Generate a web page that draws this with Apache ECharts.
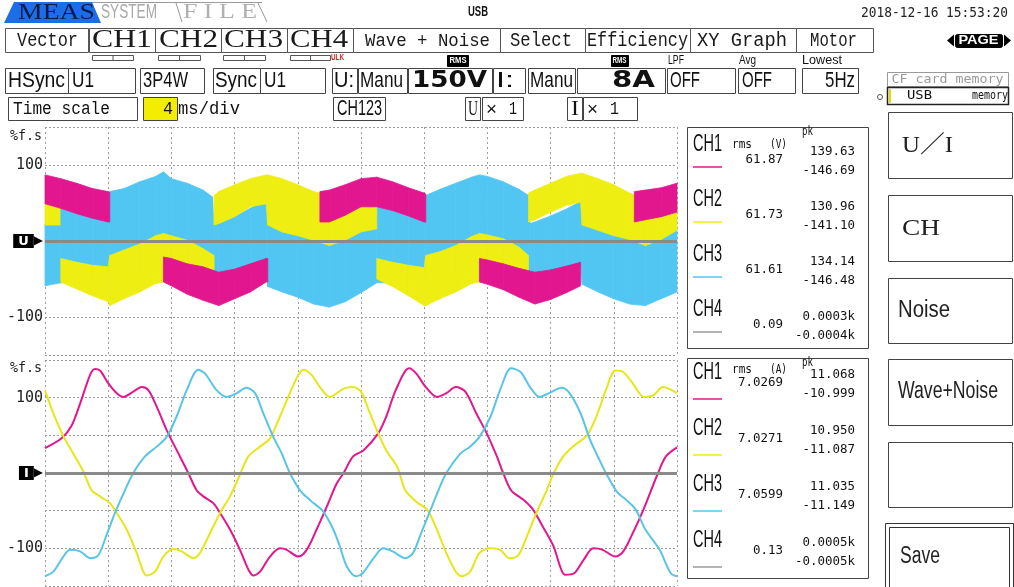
<!DOCTYPE html>
<html><head><meta charset="utf-8">
<script src="https://cdn.jsdelivr.net/npm/echarts@6/dist/echarts.min.js"></script>
<style>html,body{margin:0;padding:0;background:#fff}#c{width:1014px;height:587px}</style>
</head><body><div id="c"></div>
<script>
// ---------------- DATA ----------------
// Voltage (upper plot): PWM bands per channel, time in ms, values in %f.s (null = gap)
const U1_T  = [0,1,2,3,4,4.1,null,7.5,8,9,10,11,12,13,14,14.1,null,17.4,18,19,20,21,22,23,24,24.1,null,27.5,28,29,30,31,32,33,33.9,null,37.3,38,39,40];
const U1_HI = [87,82,76,69,65,64,null,-21,-23,-30,-34,-41,-37,-30,-23,-23,null,65,67,74,82,84,78,70,63,62,null,-23,-25,-30,-36,-41,-38,-33,-28,null,65,67,70,76];
const U1_LO = [49,43,36,30,25,25,null,-54,-59,-70,-78,-85,-76,-67,-54,-54,null,25,25,34,45,45,40,33,25,25,null,-54,-57,-64,-74,-83,-77,-68,-59,null,25,28,32,38];

const U2_T  = [0,0.95,null,1,2,3,4,4.1,5,6,7,7.5,8,9,10,10.7,null,10.7,11,12,13,14,14.1,15,16,17,18,19,20,21,null,21,22,23,24,24.1,25,26,27,27.5,28,29,30,30.6,null,30.6,31,32,33,33.9,34,35,36,37,38,39,40];
const U2_HI = [51,50,null,-23,-28,-32,-34,-19,-12,-4,7,10,7,1,-10,-19,null,60,65,74,82,87,87,82,74,65,60,50,51,50,null,-23,-28,-32,-35,-19,-14,-6,6,10,8,3,-8,-19,null,63,67,76,85,89,89,82,74,63,55,50,50];
const U2_LO = [21,21,null,-54,-63,-72,-80,-85,-76,-67,-56,-54,-50,-45,-45,-45,null,21,23,32,45,49,21,12,7,1,-6,1,12,16,null,-50,-60,-72,-85,-85,-76,-67,-56,-54,-48,-45,-45,-45,null,25,28,38,47,51,21,14,7,2,-6,2,14];

const U3_T  = [0,1,2,3,4,4.1,5,6,7,7.5,8,9,10,10.6,10.7,11,12,13,14,14.1,15,16,17,18,19,20,21,22,23,24,24.1,25,26,27,27.5,28,29,30,30.6,30.7,31,32,33,33.9,34,35,36,37,38,39,40];
const U3_HI = [22,45,40,32,28,65,69,78,85,91,82,76,67,58,21,23,32,43,54,25,15,10,5,0,5,15,45,40,33,28,60,68,76,84,87,85,78,68,60,23,25,33,42,52,25,16,10,5,0,5,17];
const U3_LO = [-59,-55,-55,-50,-45,-40,-40,-40,-40,-40,-40,-40,-40,-40,-45,-45,-40,-35,-30,-60,-67,-74,-83,-87,-80,-68,-55,-55,-50,-45,-40,-40,-40,-40,-40,-40,-40,-40,-40,-45,-45,-40,-35,-30,-57,-67,-76,-83,-85,-76,-67];

// Current (lower plot)
const I1_T = [0,1.05,1.69,2.22,2.85,3.16,3.48,4.01,4.54,4.96,5.59,6.12,6.54,7.07,7.7,8.54,9.07,9.6,10.02,10.65,11.08,11.71,12.34,12.87,13.19,13.61,14.24,14.87,15.3,16.03,16.56,17.19,17.83,18.46,18.9,19.5,20.15,21.1,21.6,22.2,23.04,23.5,24.1,24.8,25.4,26.0,26.6,27.3,27.95,28.6,29.0,29.5,30.3,30.9,31.5,32.2,32.6,32.9,33.5,34.1,34.7,35.3,36.1,36.6,37.2,37.87,38.8,39.3,40];
const I1_V = [33,46,63,92,130,138,136,119,106,101,108,114,110,88,57,22,0,-23,-31,-40,-53,-75,-102,-128,-136,-131,-111,-100,-102,-111,-102,-75,-45,-14,0,22,30,53,75,110,139,132,114,101,106,114,108,79,53,22,0,-23,-36,-49,-71,-98,-124,-135,-133,-115,-100,-102,-111,-104,-80,-49,0,22,34];
const I2_T = [0,0.53,1.16,1.79,2.43,2.95,3.48,4.11,4.54,5.17,5.8,6.22,6.43,6.96,7.49,8.12,8.65,9.39,9.81,10.44,11.08,11.71,12.24,12.87,13.61,14.24,14.87,15.5,16.03,16.35,16.88,17.4,18.04,18.9,19.5,20.0,20.5,21.0,21.6,22.3,22.8,23.5,24.2,24.8,25.4,26.0,26.4,26.9,27.5,28.2,28.8,29.4,29.96,30.5,31.1,31.75,32.2,32.8,33.4,34.3,34.9,35.5,36.1,36.6,37.2,37.9,38.5,39.1,40];
const I2_V = [110,79,49,26,2,-23,-31,-40,-53,-75,-106,-131,-136,-131,-111,-101,-104,-113,-106,-80,-53,-31,-7,22,35,46,75,106,130,137,130,114,101,112,114,108,83,57,30,8,-23,-38,-49,-75,-106,-131,-137,-131,-106,-100,-102,-113,-109,-84,-53,-23,0,22,35,50,75,110,136,134,119,101,103,114,106];
const I3_T = [0,0.53,1.16,1.58,2.22,2.85,3.38,3.9,4.43,5.06,5.59,6.33,7.07,7.7,8.33,8.97,9.7,10.13,10.86,11.5,12.13,12.76,13.29,13.82,14.45,14.98,15.5,16.14,16.77,17.6,18.25,18.67,19.1,19.7,20.1,20.8,21.4,22.0,22.8,23.3,23.8,24.4,24.9,25.4,26.3,26.9,27.5,28.2,28.8,29.5,30.1,30.7,31.3,31.9,32.7,33.2,33.9,34.5,35.1,35.5,36.2,36.8,37.4,38.0,38.9,39.6,40];
const I3_V = [-137,-131,-111,-102,-104,-113,-109,-82,-53,-23,0,22,35,48,75,110,137,132,110,101,106,113,106,79,48,26,0,-23,-36,-51,-75,-98,-124,-137,-133,-113,-100,-104,-113,-106,-80,-49,-23,0,26,35,48,75,110,139,134,114,101,106,113,106,79,44,17,0,-25,-36,-49,-75,-102,-133,-137];

// Axis ticks / labels
const Y_LABELS = [100, -100];
const X_MAX_MS = 40, X_DIV_MS = 4;

// Measurement panel values
const CHANNELS = ['CH1','CH2','CH3','CH4'];
const U_RMS = ['61.87','61.73','61.61','0.09'];
const U_PKP = ['139.63','130.96','134.14','0.0003k'];
const U_PKN = ['-146.69','-141.10','-146.48','-0.0004k'];
const I_RMS = ['7.0269','7.0271','7.0599','0.13'];
const I_PKP = ['11.068','10.950','11.035','0.0005k'];
const I_PKN = ['-10.999','-11.087','-11.149','-0.0005k'];

// ---------------- STYLE ----------------
const C1 = '#e2178f', C2 = '#eeee12', C3 = '#52c6f2', C4 = '#9a9a9a';
const CH_COLORS = [C1, C2, C3, C4];
const GRID_C = '#9c9c9c';
const SANS = '"Liberation Sans", "DejaVu Sans", sans-serif';
const MONO = '"Liberation Mono", "DejaVu Sans Mono", monospace';
const DMONO = '"DejaVu Sans Mono", monospace';
const SERIF = '"Liberation Serif", "DejaVu Serif", serif';

const mctx = document.createElement('canvas').getContext('2d');
function T(text, x, y, o) {
  o = o || {};
  const size = o.size || 14, fam = o.fam || SANS, wt = o.wt || 'normal';
  const font = wt + ' ' + size + 'px ' + fam;
  let sx = 1;
  if (o.w) { mctx.font = font; const m = mctx.measureText(text).width; if (m > 0) sx = o.w / m; }
  return {type: 'text', x: x, y: y, scaleX: sx, z: 100, silent: true,
    style: {text: text, font: font, fill: o.color || '#111', align: o.align || 'left', verticalAlign: 'middle'}};
}
function R(x, y, w, h, o) {
  o = o || {};
  return {type: 'rect', z: o.z || 90, silent: true,
    shape: {x: x + 0.5, y: y + 0.5, width: w, height: h, r: o.r || 0},
    style: {fill: o.fill || 'none', stroke: o.stroke === undefined ? '#333' : o.stroke, lineWidth: o.lw || 1}};
}
function L(x1, y1, x2, y2, c, lw) {
  return {type: 'line', z: 90, silent: true, shape: {x1: x1, y1: y1, x2: x2, y2: y2}, style: {stroke: c || '#333', lineWidth: lw || 1}};
}
function P(points, fill) { return {type: 'polygon', z: 89, silent: true, shape: {points: points}, style: {fill: fill}}; }

// ---------------- CHROME ----------------
const G = [];
// tabs
G.push(P([[4,23],[14,2],[92,2],[101,23]], '#1c6ee8'));
G.push(L(92,2.5,262,2.5,'#9a9a9a'));
G.push(L(176,3,182,22,'#9a9a9a'));
G.push(L(258,3,267,22,'#9a9a9a'));
G.push(T('MEAS', 18, 13, {size: 24, fam: SERIF, w: 77, color: '#071a4a'}));
G.push(T('SYSTEM', 101, 12, {size: 20, fam: SANS, w: 56, color: '#a8a8a8'}));
G.push(T('F I L E', 183, 12, {size: 22, fam: SERIF, w: 74, color: '#b0b0b0'}));
G.push(T('USB', 468, 12, {size: 15, fam: SANS, wt: 'bold', w: 20}));
G.push(T('2018-12-16 15:53:20', 861, 13, {size: 14, fam: DMONO, w: 147, color: '#222'}));

// row 1 buttons
const row1 = [
  ['Vector',5,88,17,61,MONO,20], ['CH1',89,155,92,60,SERIF,25], ['CH2',155,221,159,59,SERIF,25],
  ['CH3',221,287,224,59,SERIF,25], ['CH4',287,353,290,58,SERIF,25], ['Wave + Noise',353,500,365,125,MONO,19],
  ['Select',500,585,510,62,MONO,20], ['Efficiency',585,690,587,101,MONO,20], ['XY Graph',690,796,697,90,MONO,20],
  ['Motor',796,873,810,47,MONO,20]];
row1.forEach(function (b) {
  G.push(R(b[1], 28, b[2] - b[1], 24, {stroke: '#555'}));
  G.push(T(b[0], b[3], 40.5, {size: b[6], fam: b[5], w: b[4], color: '#1a1a1a'}));
});
// channel indicator boxes
[[92,133],[158,200],[223,265],[290,330]].forEach(function (b) {
  G.push(R(b[0], 55, b[1] - b[0], 5, {stroke: '#555'}));
  G.push(L((b[0] + b[1]) / 2 + 0.5, 55, (b[0] + b[1]) / 2 + 0.5, 61, '#555'));
});
G.push(T('ULK', 331, 58, {size: 9, fam: SANS, wt: 'bold', w: 13, color: '#e02020'}));
// PAGE
G.push(R(955, 34, 47, 13, {fill: '#000', stroke: '#000', r: 2}));
G.push(T('PAGE', 978.5, 41, {size: 12, fam: SANS, wt: 'bold', w: 40, color: '#fff', align: 'center'}));
G.push(P([[947,40.5],[954,34.5],[954,46.5]], '#000'));
G.push(P([[1011,40.5],[1004,34.5],[1004,46.5]], '#000'));

// small labels above row 2
G.push(R(447, 55, 21, 11, {fill: '#000', stroke: '#000'}));
G.push(T('RMS', 458, 61, {size: 9, fam: SANS, wt: 'bold', w: 17, color: '#fff', align: 'center'}));
G.push(R(611, 55, 17, 11, {fill: '#000', stroke: '#000'}));
G.push(T('RMS', 619.5, 61, {size: 9, fam: SANS, wt: 'bold', w: 14, color: '#fff', align: 'center'}));
G.push(T('LPF', 668, 61, {size: 12, fam: SANS, w: 16}));
G.push(T('Avg', 739, 61, {size: 12, fam: SANS, w: 17}));
G.push(T('Lowest', 802, 61, {size: 12, fam: SANS, w: 40}));

// row 2 boxes
const row2 = [
  [5,68,'HSync',8,57],[68,135,'U1',72,22],[140,204,'3P4W',143,45],[213,260,'Sync',215,42],[260,325,'U1',264,22],
  [332,357,'U:',334,20],[358,407,'Manu',360,43],[408,492,'150V',412,75,1],[493,525,'I:',496,18],[528,575,'Manu',530,43],
  [577,665,'8A',612,43,1],[667,735,'OFF',670,30],[738,795,'OFF',742,30],[802,858,'5Hz',825,30]];
row2.forEach(function (b) {
  G.push(R(b[0], 68, b[1] - b[0], 25, {stroke: '#444'}));
  if (b[5]) G.push(T(b[2], b[3], 81, {size: 23, fam: '"DejaVu Sans", sans-serif', wt: 'bold', w: b[4], color: '#111'}));
  else G.push(T(b[2], b[3], 81, {size: 22, fam: SANS, w: b[4], color: '#111'}));
});

// row 3
[[8,137],[333,385],[465,480],[482,523],[567,582],[583,637]].forEach(function (b) {
  G.push(R(b[0], 97, b[1] - b[0], 23, {stroke: '#444'}));
});
G.push(R(143, 97, 34, 23, {stroke: '#444', fill: '#f3ee00'}));
G.push(T('Time scale', 13, 109, {size: 19, fam: MONO, w: 97}));
G.push(T('4', 163, 109, {size: 19, fam: MONO, w: 10}));
G.push(T('ms/div', 178, 109, {size: 19, fam: MONO, w: 62}));
G.push(T('CH123', 337, 109, {size: 22, fam: SANS, w: 45}));
G.push(T('U', 468, 109, {size: 21, fam: SERIF, w: 10}));
G.push(T('×', 486, 110, {size: 18, fam: SANS, w: 11}));
G.push(T('1', 509, 109, {size: 19, fam: MONO, w: 8}));
G.push(T('I', 571, 109, {size: 21, fam: SERIF, w: 8}));
G.push(T('×', 587, 110, {size: 18, fam: SANS, w: 11}));
G.push(T('1', 610, 109, {size: 19, fam: MONO, w: 9}));

// memory boxes
G.push(R(887, 72, 121, 14, {stroke: '#999'}));
G.push(T('CF card memory', 947.5, 79.5, {size: 13, fam: DMONO, w: 112, color: '#9a9a9a', align: 'center'}));
G.push(R(887, 87, 121, 17, {stroke: '#222', lw: 1.5}));
G.push(T('USB', 907, 96, {size: 13, fam: DMONO, w: 25}));
G.push(T('memory', 972, 96, {size: 13, fam: DMONO, w: 36}));
G.push({type: 'circle', z: 90, silent: true, shape: {cx: 880, cy: 97, r: 2.5}, style: {fill: 'none', stroke: '#555'}});
G.push(R(889, 89, 1, 13, {fill: '#e6d800', stroke: '#e6d800'}));

// right buttons
[[112,66],[195,66],[278,65],[359,66],[442,65]].forEach(function (b) { G.push(R(888, b[0], 124, b[1], {stroke: '#444'})); });
G.push(R(885, 523, 128, 70, {stroke: '#333'}));
G.push(R(889, 527, 120, 62, {stroke: '#333'}));
G.push(T('U／I', 902, 146, {size: 24, fam: SERIF + ', "Noto Sans CJK JP"', w: 51, color: '#222'}));
G.push(T('CH', 902, 229, {size: 24, fam: SERIF, w: 38, color: '#222'}));
G.push(T('Noise', 898, 311, {size: 23, fam: SANS, w: 52, color: '#222'}));
G.push(T('Wave+Noise', 898, 392, {size: 23, fam: SANS, w: 100, color: '#222'}));
G.push(T('Save', 900, 557, {size: 23, fam: SANS, w: 40, color: '#222'}));

// measurement panels
function panel(top, h, step, unit, rms, pkp, pkn, off) {
  G.push(R(687, top, 181, h, {stroke: '#444'}));
  G.push(T('rms', 732, top + off.hdr, {size: 13, fam: DMONO, w: 20}));
  G.push(T(unit, 770, top + off.hdr, {size: 13, fam: DMONO, w: 17}));
  G.push(T('pk', 802, top + off.pk, {size: 13, fam: DMONO, w: 11}));
  CHANNELS.forEach(function (ch, k) {
    const yb = top + k * step;
    G.push(T(ch, 693, yb + off.lab, {size: 24, fam: SANS, w: 29, color: '#111'}));
    G.push(T(pkp[k], 855, yb + off.pkp, {size: 13, fam: DMONO, align: 'right', w: pkp[k].length * 7.5}));
    G.push(T(rms[k], 783, yb + off.rms, {size: 13, fam: DMONO, align: 'right', w: rms[k].length * 7.5}));
    G.push(T(pkn[k], 855, yb + off.pkn, {size: 13, fam: DMONO, align: 'right', w: pkn[k].length * 7.5}));
    G.push(L(693, yb + off.line, 722, yb + off.line, CH_COLORS[k], 1.5));
  });
}
panel(127, 221, 55, '(V)', U_RMS, U_PKP, U_PKN, {hdr: 18, pk: 5, lab: 17, pkp: 25, rms: 33, pkn: 44, line: 40});
panel(358, 220, 56, '(A)', I_RMS, I_PKP, I_PKN, {hdr: 12, pk: 5, lab: 14, pkp: 17, rms: 25, pkn: 36, line: 41});

// axis unit names
G.push(T('%f.s', 42, 136, {size: 14, fam: DMONO, w: 32, align: 'right', color: '#222'}));
G.push(T('%f.s', 42, 368, {size: 14, fam: DMONO, w: 32, align: 'right', color: '#222'}));

// ---------------- SERIES HELPERS ----------------
function bandData(Tm, HI, LO) {
  const out = [];
  for (let i = 0; i < Tm.length - 1; i++) {
    if (Tm[i] == null || Tm[i + 1] == null) continue;
    out.push([Tm[i], LO[i], HI[i], Tm[i + 1], LO[i + 1], HI[i + 1]]);
  }
  return out;
}
function bandSeries(name, Tm, HI, LO, color, z) {
  return {
    type: 'custom', name: name, xAxisIndex: 0, yAxisIndex: 0, z: z, silent: true,
    data: bandData(Tm, HI, LO),
    encode: {x: [0, 3], y: [1, 2, 4, 5]},
    renderItem: function (params, api) {
      const a = api.coord([api.value(0), api.value(2)]);
      const b = api.coord([api.value(3), api.value(5)]);
      const c = api.coord([api.value(3), api.value(4)]);
      const d = api.coord([api.value(0), api.value(1)]);
      return {type: 'polygon', shape: {points: [a, b, c, d]}, style: {fill: color, stroke: color, lineWidth: 0.8}};
    }
  };
}
function zip(Tm, V) { return Tm.map(function (t, i) { return [t, V[i]]; }); }
function curve(name, Tm, V, color) {
  return {type: 'line', name: name, xAxisIndex: 1, yAxisIndex: 1, data: zip(Tm, V), showSymbol: false,
    smooth: 0.3, lineStyle: {color: color, width: 2}, z: 3, silent: true};
}
function yAxisFor(idx, tag, showSplit) {
  return {
    type: 'value', gridIndex: idx, min: -150, max: 150, interval: 50,
    axisLine: {show: false}, axisTick: {show: false},
    splitLine: {show: showSplit, lineStyle: {color: GRID_C, type: [2, 2], width: 1}},
    axisLabel: {
      margin: 2, fontFamily: 'DejaVu Sans Mono', fontSize: 15, color: '#222',
      formatter: function (v) {
        if (v === 0) return '{tag|' + tag + '}{arr|▶}';
        return Y_LABELS.indexOf(v) >= 0 ? String(v) : '';
      },
      rich: {
        tag: {backgroundColor: '#000', color: '#fff', fontWeight: 'bold', fontSize: 13, fontFamily: 'DejaVu Sans', padding: [1, 5, 0, 5], lineHeight: 13},
        arr: {color: '#000', fontSize: 12, fontFamily: 'DejaVu Sans', lineHeight: 13}
      }
    }
  };
}
function xAxisFor(idx) {
  return {type: 'value', gridIndex: idx, min: 0, max: X_MAX_MS, interval: X_DIV_MS,
    axisLine: {show: false}, axisTick: {show: false}, axisLabel: {show: false},
    splitLine: {show: true, lineStyle: {color: GRID_C, type: [2, 3], width: 1}}};
}
function refLines(idx, vals, style, z) {
  return {type: 'line', xAxisIndex: idx, yAxisIndex: idx, data: [[0, 0]], showSymbol: false, z: z, silent: true,
    lineStyle: {opacity: 0},
    markLine: {silent: true, symbol: 'none', animation: false, label: {show: false},
      lineStyle: style, data: vals.map(function (v) { return {yAxis: v}; })}};
}

const chart = echarts.init(document.getElementById('c'), null, {renderer: 'canvas'});
chart.setOption({
  animation: false,
  backgroundColor: '#fff',
  grid: [
    {left: 45, top: 127, width: 632, height: 228},
    {left: 45, top: 360, width: 632, height: 226}
  ],
  xAxis: [xAxisFor(0), xAxisFor(1)],
  yAxis: [yAxisFor(0, 'U', false), yAxisFor(1, 'I', true)],
  series: [
    refLines(0, [150, 100, -100, -150], {color: GRID_C, type: [2, 2], width: 1}, 1),
    bandSeries('CH3 U', U3_T, U3_HI, U3_LO, C3, 2),
    bandSeries('CH2 U', U2_T, U2_HI, U2_LO, C2, 3),
    bandSeries('CH1 U', U1_T, U1_HI, U1_LO, C1, 4),
    refLines(0, [0], {color: '#8a8a8a', type: 'solid', width: 3}, 10),
    curve('CH1 I', I1_T, I1_V, C1),
    curve('CH2 I', I2_T, I2_V, '#e6e618'),
    curve('CH3 I', I3_T, I3_V, '#5ac4e6'),
    refLines(1, [0], {color: '#8a8a8a', type: 'solid', width: 3}, 10)
  ],
  graphic: G
});
</script></body></html>
